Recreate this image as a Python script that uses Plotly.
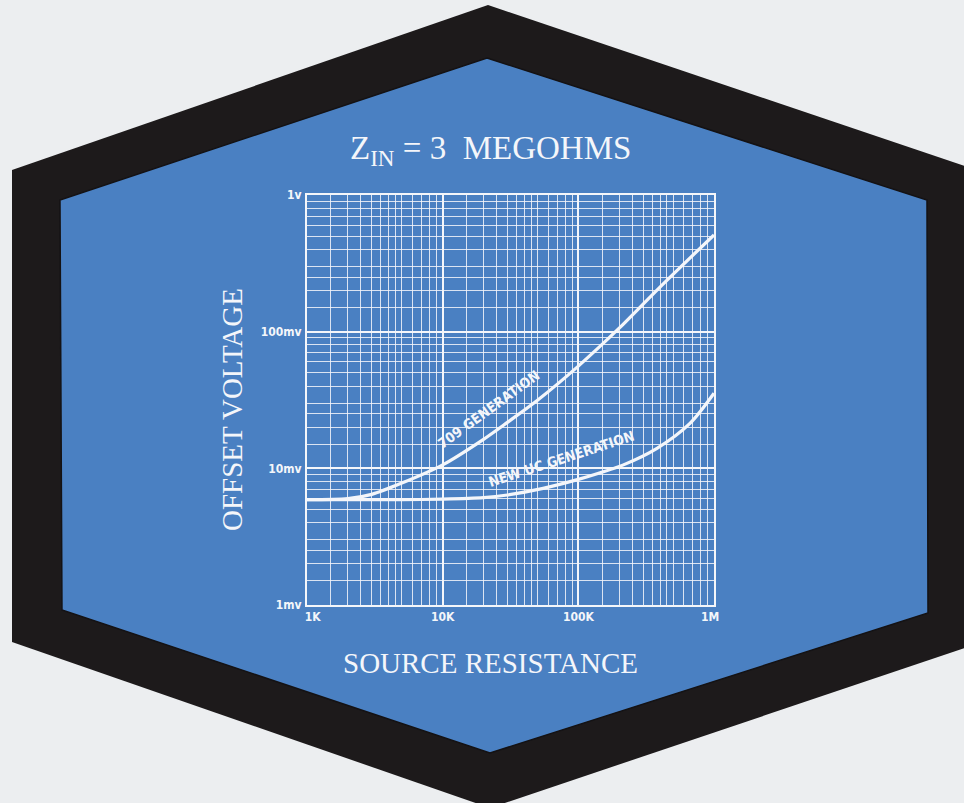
import numpy as np
import plotly.graph_objects as go

# ---------------- data ----------------
res_709 = [1000, 2000, 3000, 5000, 10000, 20000, 30000, 50000, 100000, 200000, 400000, 1000000]
off_709 = [5.9, 6.0, 6.45, 7.8, 10.6, 16.3, 21.7, 31.5, 56, 106, 212, 510]          # mV

res_uc = [1000, 2000, 5000, 10000, 20000, 30000, 55000, 100000, 145000, 215000, 380000, 665000, 1000000]
off_uc = [5.9, 5.9, 5.9, 5.95, 6.1, 6.38, 7.14, 8.3, 9.28, 10.6, 14.0, 21.3, 35.4]   # mV

x_tickvals = [1e3, 1e4, 1e5, 1e6]
x_ticktext = ["\u00a0\u00a0\u00a01K", "10K", "100K", "1M\u00a0\u00a0"]
y_tickvals = [1, 10, 100, 1000]
y_ticktext = ["1mv", "10mv", "100mv", "1v"]
minor_x_mult = [1.5, 2, 2.5, 3, 3.5, 4, 4.5, 5, 6, 7, 8, 9]
minor_y_mult = [1.5, 2, 2.5, 3, 4, 5, 6, 7, 8, 9]

label_709 = "709 GENERATION"
label_uc = "NEW UC GENERATION"
title_text = "Z<sub>IN</sub>\u00a0=\u00a03\u00a0\u00a0MEGOHMS"
x_title = "SOURCE RESISTANCE"
y_title = "OFFSET VOLTAGE"

# ---------------- layout geometry ----------------
W, H = 964, 803
L, R, T, B = 307, 714, 195, 605   # plot-area pixel box
PW, PH = R - L, B - T

def px2paper(px, py):
    return (px - L) / PW, (B - py) / PH

def hex_path(pts):
    s = ""
    for i, (px, py) in enumerate(pts):
        fx, fy = px2paper(px, py)
        s += ("M" if i == 0 else "L") + f"{fx:.4f},{fy:.4f} "
    return s + "Z"

black_hex = [(488, 5), (968, 167), (968, 647), (490, 808), (12, 642), (12, 170)]
blue_hex = [(487, 58), (927, 200), (928, 613), (490, 753), (62, 610), (60, 200)]

BLUE = "#4a80c2"
BLACK = "#1d1a1b"
BG = "#eceef0"
WHITE = "#f4f6fa"

minor_x = [m * d for d in [1e3, 1e4, 1e5] for m in minor_x_mult]
minor_y = [m * d for d in [1, 10, 100] for m in minor_y_mult]

fig = go.Figure()
fig.add_trace(go.Scatter(x=res_709, y=off_709, mode="lines",
                         line=dict(color=WHITE, width=3.2, shape="spline", smoothing=0.8),
                         hoverinfo="skip", showlegend=False))
fig.add_trace(go.Scatter(x=res_uc, y=off_uc, mode="lines",
                         line=dict(color=WHITE, width=3.2, shape="spline", smoothing=0.8),
                         hoverinfo="skip", showlegend=False))

tick_font = dict(family="DejaVu Sans Condensed, DejaVu Sans", size=12, color=WHITE, weight="bold")
serif = dict(family="Liberation Serif, Times New Roman, serif", color=WHITE)

fig.update_layout(
    width=W, height=H,
    margin=dict(l=L, r=W - R, t=T, b=H - B, pad=0),
    paper_bgcolor=BG, plot_bgcolor="rgba(0,0,0,0)",
    xaxis=dict(type="log", range=[3, 6], tickmode="array", tickvals=x_tickvals, ticktext=x_ticktext,
               showgrid=True, gridcolor=WHITE, gridwidth=1.8,
               showline=True, linecolor=WHITE, linewidth=2, mirror=True,
               ticks="", tickfont=tick_font, zeroline=False,
               minor=dict(tickmode="array", tickvals=minor_x, showgrid=True,
                          gridcolor="rgba(244,246,250,0.85)", gridwidth=1, ticks="")),
    yaxis=dict(type="log", range=[0, 3], tickmode="array", tickvals=y_tickvals, ticktext=y_ticktext,
               showgrid=True, gridcolor=WHITE, gridwidth=1.8,
               showline=True, linecolor=WHITE, linewidth=2, mirror=True,
               ticks="", tickfont=tick_font, zeroline=False, ticklabelstandoff=1,
               minor=dict(tickmode="array", tickvals=minor_y, showgrid=True,
                          gridcolor="rgba(244,246,250,0.85)", gridwidth=1, ticks="")),
    shapes=[
        dict(type="path", xref="paper", yref="paper", path=hex_path(black_hex),
             fillcolor=BLACK, line=dict(width=0), layer="below"),
        dict(type="path", xref="paper", yref="paper", path=hex_path(blue_hex),
             fillcolor=BLUE, line=dict(color="#141214", width=1.5), layer="below"),
    ],
)

# titles
tx, ty = px2paper(490, 151)
fig.add_annotation(xref="paper", yref="paper", x=tx, y=ty, text=title_text, showarrow=False,
                   font=dict(size=33, **serif), xanchor="center", yanchor="middle")
xx, xy = px2paper(490, 663)
fig.add_annotation(xref="paper", yref="paper", x=xx, y=xy, text=x_title, showarrow=False,
                   font=dict(size=29, **serif), xanchor="center", yanchor="middle")
yx, yy = px2paper(232, 410)
fig.add_annotation(xref="paper", yref="paper", x=yx, y=yy, text=y_title, showarrow=False,
                   textangle=-90, font=dict(size=29, **serif), xanchor="center", yanchor="middle")

# curve labels (positioned in data space)
lab_font = dict(family="DejaVu Sans Condensed, DejaVu Sans", size=14, color=WHITE, weight="bold")
fig.add_annotation(x=np.log10(22000), y=np.log10(27.0), text=label_709, showarrow=False,
                   textangle=-36, font=lab_font)
fig.add_annotation(x=np.log10(74000), y=np.log10(11.8), text=label_uc, showarrow=False,
                   textangle=-18, font=lab_font)

fig.write_html(
    "out.html",
    config={"displayModeBar": False},
    post_script="document.body.style.margin='0';document.body.style.overflow='hidden';"
                "document.body.style.background='" + BG + "';",
)
